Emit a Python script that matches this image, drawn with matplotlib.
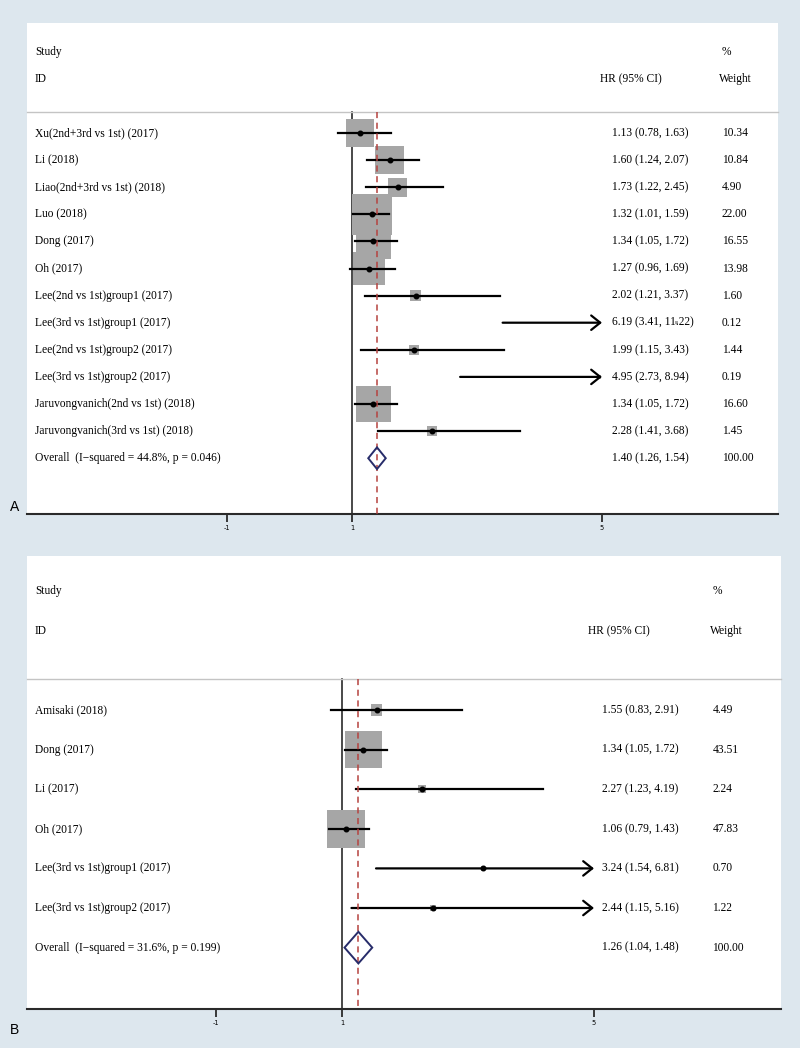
import matplotlib
matplotlib.use('Agg')
import matplotlib.pyplot as plt
import numpy as np

# panel A data
studies_a = ['Xu(2nd+3rd vs 1st) (2017)', 'Li (2018)', 'Liao(2nd+3rd vs 1st) (2018)',
             'Luo (2018)', 'Dong (2017)', 'Oh (2017)', 'Lee(2nd vs 1st)group1 (2017)',
             'Lee(3rd vs 1st)group1 (2017)', 'Lee(2nd vs 1st)group2 (2017)',
             'Lee(3rd vs 1st)group2 (2017)', 'Jaruvongvanich(2nd vs 1st) (2018)',
             'Jaruvongvanich(3rd vs 1st) (2018)']
hr_a = [1.13, 1.60, 1.73, 1.32, 1.34, 1.27, 2.02, 6.19, 1.99, 4.95, 1.34, 2.28]
lo_a = [0.78, 1.24, 1.22, 1.01, 1.05, 0.96, 1.21, 3.41, 1.15, 2.73, 1.05, 1.41]
hi_a = [1.63, 2.07, 2.45, 1.59, 1.72, 1.69, 3.37, 11.22, 3.43, 8.94, 1.72, 3.68]
wt_a = [10.34, 10.84, 4.90, 22.00, 16.55, 13.98, 1.60, 0.12, 1.44, 0.19, 16.60, 1.45]
overall_a = (1.40, 1.26, 1.54)
overall_label_a = 'Overall  (I\u2212squared = 44.8%, p = 0.046)'

# panel B data
studies_b = ['Amisaki (2018)', 'Dong (2017)', 'Li (2017)', 'Oh (2017)',
             'Lee(3rd vs 1st)group1 (2017)', 'Lee(3rd vs 1st)group2 (2017)']
hr_b = [1.55, 1.34, 2.27, 1.06, 3.24, 2.44]
lo_b = [0.83, 1.05, 1.23, 0.79, 1.54, 1.15]
hi_b = [2.91, 1.72, 4.19, 1.43, 6.81, 5.16]
wt_b = [4.49, 43.51, 2.24, 47.83, 0.70, 1.22]
overall_b = (1.26, 1.04, 1.48)
overall_label_b = 'Overall  (I\u2212squared = 31.6%, p = 0.199)'

xticks = [-1, 1, 5]

BG = '#dde7ee'
SERIF = 'Liberation Serif'
FS = 8.3
W, H = 800, 1048


def draw_panel(rect, xlim, ylim, studies, hr, lo, hi, wt, overall, ov_label,
               box_k, cols, letter, letter_y):
    l, t, r, b = rect
    ax = fig.add_axes([l / W, 1 - b / H, (r - l) / W, (b - t) / H])
    ax.set_facecolor('white')
    ax.set_xlim(*xlim)
    ax.set_ylim(*ylim)
    for s in ['left', 'right', 'top']:
        ax.spines[s].set_visible(False)
    ax.spines['bottom'].set_color('#2a2a2a')
    ax.spines['bottom'].set_linewidth(1.5)
    ax.set_yticks([])
    ax.set_xticks(xticks)
    ax.set_xticklabels([str(x) for x in xticks], fontsize=4.8, family='DejaVu Sans')
    ax.tick_params(axis='x', length=6, width=1.3, color='#2a2a2a', pad=2)

    n = len(studies)
    rows = np.arange(n)
    xmax = max(xticks)
    tr = ax.get_yaxis_transform()
    sep = -0.78

    # headers
    ax.text(cols[0], -3, 'Study', transform=tr, fontsize=FS, family=SERIF, va='center')
    ax.text(cols[0], -2, 'ID', transform=tr, fontsize=FS, family=SERIF, va='center')
    ax.text(cols[3], -2, 'HR (95% CI)', transform=tr, fontsize=FS, family=SERIF, va='center')
    ax.text(cols[4], -3, '%', transform=tr, fontsize=FS, family=SERIF, va='center')
    ax.text(cols[4] - 0.003, -2, 'Weight', transform=tr, fontsize=FS, family=SERIF, va='center')
    ax.plot([0, 1], [sep, sep], transform=tr, color='#c4c4c4', lw=1.0, clip_on=False)

    # reference lines
    ax.plot([1, 1], [sep, ylim[0]], color='#2a2a2a', lw=1.2, zorder=1)
    ax.plot([overall[0]] * 2, [sep, ylim[0]], color='#b5423f', lw=1.1,
            dashes=(4, 3), zorder=4)

    # boxes
    ax.scatter(hr, rows, s=np.array(wt) * box_k, marker='s', color='#a6a6a6',
               edgecolors='none', zorder=2)
    for i in range(n):
        if hi[i] > xmax:
            ax.annotate('', xy=(xmax, i), xytext=(lo[i], i),
                        arrowprops=dict(arrowstyle='->,head_length=0.65,head_width=0.52',
                                        lw=1.6, color='black', shrinkA=0, shrinkB=0),
                        zorder=3)
        else:
            ax.plot([lo[i], hi[i]], [i, i], color='black', lw=1.6, zorder=3)
        # point hidden under the arrow head when it sits at the clip edge
        if hr[i] < xmax - 0.2:
            ax.plot(hr[i], i, 'o', color='black', ms=3.3, zorder=5)
        ax.text(cols[1], i, studies[i], transform=tr, fontsize=FS, family=SERIF, va='center')
        ax.text(cols[2], i, f'{hr[i]:.2f} ({lo[i]:.2f}, {hi[i]:.2f})', transform=tr,
                fontsize=FS, family=SERIF, va='center')
        ax.text(cols[4], i, f'{wt[i]:.2f}', transform=tr, fontsize=FS, family=SERIF,
                va='center')

    # overall diamond
    est, olo, ohi = overall
    dh = 0.4
    ax.fill([olo, est, ohi, est, olo], [n, n - dh, n, n + dh, n], facecolor='none',
            edgecolor='#272c6a', lw=1.4, zorder=5)
    ax.text(cols[1], n, ov_label, transform=tr, fontsize=FS, family=SERIF, va='center')
    ax.text(cols[2], n, f'{est:.2f} ({olo:.2f}, {ohi:.2f})', transform=tr, fontsize=FS,
            family=SERIF, va='center')
    ax.text(cols[4], n, '100.00', transform=tr, fontsize=FS, family=SERIF, va='center')

    fig.text(10 / W, 1 - letter_y / H, letter, fontsize=10, family='Liberation Sans',
             va='center')
    return ax


fig = plt.figure(figsize=(W / 100, H / 100), dpi=100)
fig.patch.set_facecolor(BG)

# panel A: 1 at px 352, 62.5 px per unit, rows start px 133 step 27.1
draw_panel((27, 23, 778, 514),
           (1 - 325 / 62.5, 1 + 426 / 62.5),
           ((514 - 133) / 27.1, (23 - 133) / 27.1),
           studies_a, hr_a, lo_a, hi_a, wt_a, overall_a, overall_label_a,
           39.0, (0.0107, 0.0107, 0.779, 0.763, 0.925), 'A', 507)

# panel B: 1 at px 342, 63 px per unit, rows start px 710 step 39.6
draw_panel((27, 556, 781, 1009),
           (1 - 315 / 63, 1 + 439 / 63),
           ((1009 - 710) / 39.6, (556 - 710) / 39.6),
           studies_b, hr_b, lo_b, hi_b, wt_b, overall_b, overall_label_b,
           15.7, (0.0107, 0.0107, 0.763, 0.744, 0.909), 'B', 1030)

fig.savefig('out.png', dpi=100, facecolor=BG)
